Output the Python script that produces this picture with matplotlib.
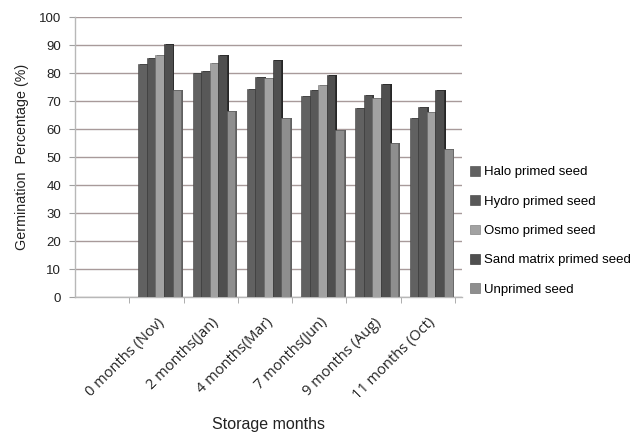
import matplotlib
matplotlib.use("Agg")
import matplotlib.pyplot as plt
import numpy as np

plt.rcParams['font.family'] = ['Liberation Sans', 'DejaVu Sans']

categories = ["0 months (Nov)", "2 months(Jan)", "4 months(Mar)",
              "7 months(Jun)", "9 months (Aug)", "11 months (Oct)"]
series_names = ["Halo primed seed", "Hydro primed seed", "Osmo primed seed",
                "Sand matrix primed seed", "Unprimed seed"]
halo = [83.3, 80.1, 74.4, 71.8, 67.5, 63.9]
hydro = [85.5, 80.6, 78.6, 73.8, 72.0, 67.9]
osmo = [86.5, 83.7, 78.2, 75.6, 71.1, 66.1]
sand = [90.5, 86.5, 84.5, 79.4, 76.2, 73.8]
unprimed = [74.0, 66.3, 63.9, 59.5, 55.1, 53.0]
yticks = list(range(0, 101, 10))

series = [halo, hydro, osmo, sand, unprimed]
face = ["#616161", "#585858", "#a2a2a2", "#4f4f4f", "#8e8e8e"]
side = ["#404040", "#3a3a3a", "#707070", "#262626", "#606060"]

fig = plt.figure(figsize=(6.33, 4.34), dpi=100)
ax = fig.add_axes([75 / 633, 1 - 297 / 434, 387 / 633, 280 / 434])

x = np.arange(len(categories))
w = 0.158
offsets = (np.arange(len(series)) - 2) * w + 0.06

for vals, name, fc, sc, off in zip(series, series_names, face, side, offsets):
    # darker side face to give the bars some depth
    ax.bar(x + off + 0.035, vals, width=w, color=sc, zorder=2)
    ax.bar(x + off, vals, width=w, color=fc, label=name, zorder=3,
           edgecolor=sc, linewidth=0.4)

ax.set_xlim(-1.5, 5.63)
ax.set_ylim(0, 100)
ax.set_yticks(yticks)
ax.tick_params(axis='y', labelsize=9.5, length=4, color="#a0a0a0", pad=6,
               labelcolor="#222222")
ax.yaxis.grid(True, color="#a89a9a", linewidth=1.0, zorder=0)
ax.set_axisbelow(True)

ax.set_xticks(x)
ax.set_xticklabels(categories, rotation=45, ha='right', va='top',
                   rotation_mode='anchor', fontsize=10.5, color="#222222",
                   family=['Open Sans', 'DejaVu Sans'])
ax.tick_params(axis='x', length=0, pad=13)
ax.set_xticks(np.arange(-0.5, 6.0, 1.0), minor=True)
ax.tick_params(axis='x', which='minor', length=4, color="#a0a0a0")

for s in ["top", "right"]:
    ax.spines[s].set_visible(False)
for s in ["left", "bottom"]:
    ax.spines[s].set_color("#b8b8b8")
    ax.spines[s].set_linewidth(1.0)

ax.set_ylabel("Germination  Percentage (%)", fontsize=10.3, color="#222222")
ax.yaxis.set_label_coords(-0.118, 0.5)
ax.set_xlabel("Storage months", fontsize=11.5, color="#222222")
ax.xaxis.set_label_coords(0.5, -0.43)

leg = ax.legend(loc='upper left', bbox_to_anchor=(1.008, 0.487), frameon=False,
                fontsize=9.5, handlelength=0.75, handleheight=0.75,
                labelspacing=1.28, handletextpad=0.3, borderaxespad=0)

fig.savefig("out.png", dpi=100)
